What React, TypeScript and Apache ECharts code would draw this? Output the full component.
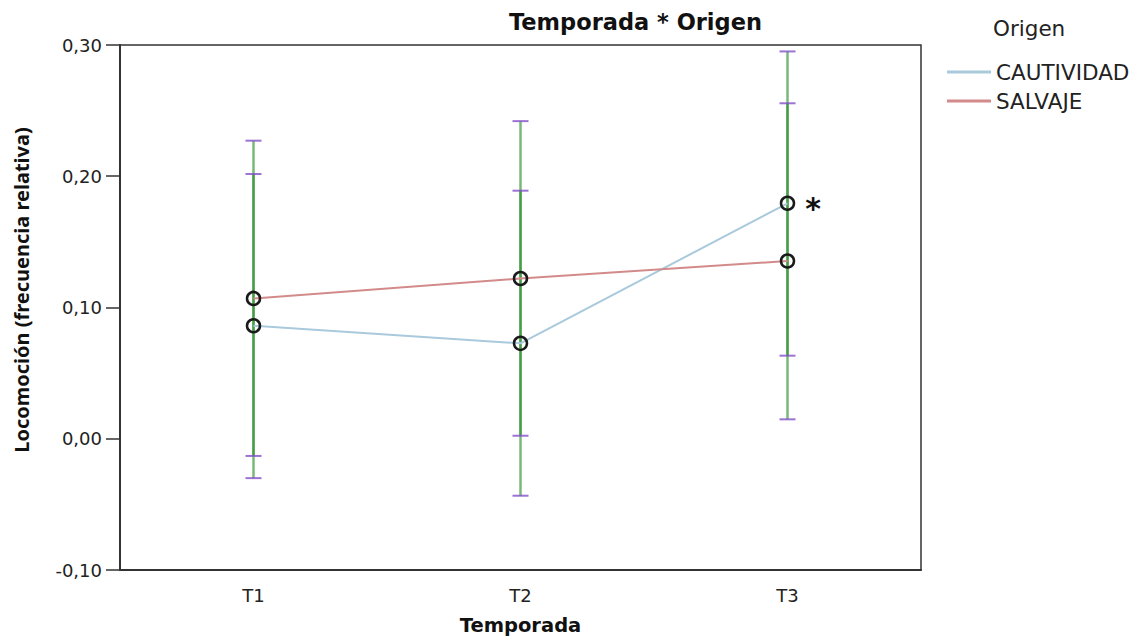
import React, { useEffect, useRef } from "react";
import * as echarts from "echarts";

// Temporada (season) categories
const temporadas = ["T1", "T2", "T3"];

// Mean relative frequency of locomotion per origin
const cautividad = [0.0861, 0.0727, 0.1794];
const salvaje = [0.1069, 0.1221, 0.1354];

// Error bars drawn at each season: [low, high]
const errorBarA = [
  [-0.03, 0.2271],
  [-0.0434, 0.242],
  [0.0148, 0.2951],
];
const errorBarB = [
  [-0.0131, 0.2017],
  [0.0023, 0.189],
  [0.0633, 0.2556],
];

const yTicks = { min: -0.1, max: 0.3, interval: 0.1 };

const BLUE = "#a9c9dc";
const RED = "#d38a8a";
const SANS = "DejaVu Sans, Verdana, sans-serif";

const fmt = (v: number) => v.toFixed(2).replace(".", ",");

export default function App() {
  const ref = useRef<HTMLDivElement>(null);

  useEffect(() => {
    if (!ref.current) return;
    const chart = echarts.init(ref.current, null, { renderer: "svg" });

    const errData = [
      ...errorBarA.map((d, i) => [i, d[0], d[1]]),
      ...errorBarB.map((d, i) => [i, d[0], d[1]]),
    ];

    chart.setOption({
      animation: false,
      backgroundColor: "#ffffff",
      textStyle: { fontFamily: SANS },
      title: {
        text: "Temporada * Origen",
        left: 504,
        top: 5,
        textStyle: {
          fontFamily: SANS,
          fontWeight: "bold",
          fontSize: 22.5,
          color: "#111",
        },
      },
      legend: {
        orient: "vertical",
        left: 942,
        top: 55,
        itemWidth: 44,
        itemHeight: 3,
        itemGap: 5,
        selectedMode: false,
        textStyle: {
          fontFamily: SANS,
          fontSize: 21.5,
          lineHeight: 24,
          color: "#222",
        },
        data: [
          { name: "CAUTIVIDAD", icon: "rect", itemStyle: { color: BLUE, borderWidth: 0 } },
          { name: "SALVAJE", icon: "rect", itemStyle: { color: RED, borderWidth: 0 } },
        ],
      },
      graphic: [
        {
          type: "text",
          left: 993,
          top: 17,
          style: {
            text: "Origen",
            fontFamily: SANS,
            fontSize: 21.5,
            fill: "#222",
          },
        },
        {
          type: "text",
          x: 21,
          y: 290,
          rotation: Math.PI / 2,
          style: {
            text: "Locomoción (frecuencia relativa)",
            fontFamily: "Noto Sans, Open Sans, sans-serif",
            fontWeight: "bold",
            fontSize: 20,
            fill: "#111",
            align: "center",
            verticalAlign: "middle",
          },
        },
      ],
      grid: {
        left: 120,
        right: 217,
        top: 45,
        bottom: 67,
        show: true,
        borderColor: "#333",
        borderWidth: 1.5,
        outerBoundsMode: "none",
      },
      xAxis: {
        type: "category",
        data: temporadas,
        boundaryGap: true,
        name: "Temporada",
        nameLocation: "middle",
        nameGap: 45,
        nameTextStyle: {
          fontFamily: SANS,
          fontWeight: "bold",
          fontSize: 19.5,
          color: "#111",
        },
        axisLine: { onZero: false, lineStyle: { color: "#333", width: 2 } },
        axisTick: { alignWithLabel: true, length: 11, lineStyle: { color: "#333", width: 1.5 } },
        axisLabel: { fontSize: 18, color: "#222", margin: 16 },
        splitLine: { show: false },
      },
      yAxis: {
        type: "value",
        min: yTicks.min,
        max: yTicks.max,
        interval: yTicks.interval,
        axisLine: { show: true, lineStyle: { color: "#333", width: 2 } },
        axisTick: { show: true, length: 14, lineStyle: { color: "#333", width: 1.5 } },
        axisLabel: { fontSize: 18, color: "#222", margin: 18, formatter: fmt },
        splitLine: { show: false },
      },
      series: [
        {
          type: "custom",
          name: "error",
          data: errData,
          z: 1,
          silent: true,
          renderItem: (params: any, api: any) => {
            const x = api.value(0);
            const lo = api.coord([x, api.value(1)]);
            const hi = api.coord([x, api.value(2)]);
            const half = 8;
            const capStyle = { stroke: "rgba(130, 80, 200, 0.8)", lineWidth: 2 };
            return {
              type: "group",
              children: [
                {
                  type: "line",
                  shape: { x1: hi[0], y1: hi[1], x2: lo[0], y2: lo[1] },
                  style: { stroke: "rgba(40, 140, 40, 0.62)", lineWidth: 2.5 },
                },
                {
                  type: "line",
                  shape: { x1: hi[0] - half, y1: hi[1], x2: hi[0] + half, y2: hi[1] },
                  style: capStyle,
                },
                {
                  type: "line",
                  shape: { x1: lo[0] - half, y1: lo[1], x2: lo[0] + half, y2: lo[1] },
                  style: capStyle,
                },
              ],
            };
          },
        },
        {
          type: "line",
          name: "CAUTIVIDAD",
          z: 3,
          data: cautividad.map((v, i) =>
            i === 2
              ? {
                  value: v,
                  label: {
                    show: true,
                    position: "right",
                    distance: 10,
                    offset: [0, 5],
                    formatter: "*",
                    fontFamily: SANS,
                    fontWeight: "bold",
                    fontSize: 30,
                    color: "#111",
                  },
                }
              : v
          ),
          symbol: "circle",
          symbolSize: 13,
          lineStyle: { color: BLUE, width: 2 },
          itemStyle: { color: "rgba(0,0,0,0)", borderColor: "#1a1a1a", borderWidth: 2.5 },
        },
        {
          type: "line",
          name: "SALVAJE",
          z: 3,
          data: salvaje,
          symbol: "circle",
          symbolSize: 13,
          lineStyle: { color: RED, width: 2 },
          itemStyle: { color: "rgba(0,0,0,0)", borderColor: "#1a1a1a", borderWidth: 2.5 },
        },
      ],
    });

    return () => chart.dispose();
  }, []);

  return (
    <div
      ref={ref}
      style={{ position: "fixed", left: 0, top: 0, width: 1138, height: 637, background: "#fff" }}
    />
  );
}
